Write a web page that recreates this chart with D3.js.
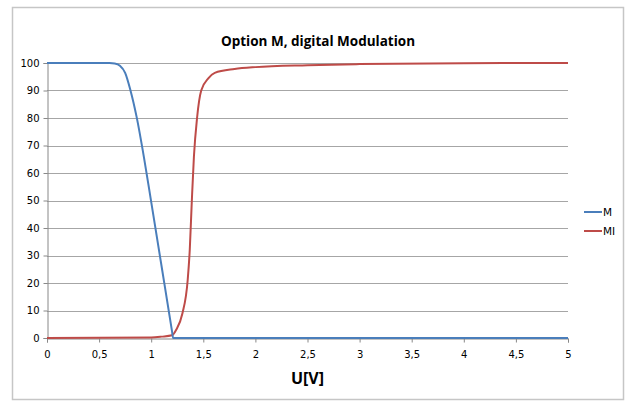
<!DOCTYPE html>
<html>
<head>
<meta charset="utf-8">
<script src="https://cdn.jsdelivr.net/npm/d3@7"></script>
<style>
  body { margin: 0; background: #fff; }
  text { font-family: "DejaVu Sans", sans-serif; }
</style>
</head>
<body>
<div id="chart"></div>
<script>
// values
var mX  = [0, 0.6, 0.65, 0.7, 0.75, 0.8, 0.86, 0.93, 1.0, 1.1, 1.2, 1.21, 5];
var mY  = [100, 100, 99.8, 99, 96.4, 90.2, 80.4, 65.8, 49.5, 26, 2.4, 0, 0];
var miX = [0, 1.0, 1.1, 1.2, 1.24, 1.3, 1.35, 1.37, 1.39, 1.41, 1.44, 1.48, 1.55, 1.61, 1.8, 2.0, 2.5, 3, 4, 5];
var miY = [0, 0.2, 0.5, 1, 3, 9, 21, 32, 50, 66, 80, 90, 94.5, 96.4, 97.8, 98.5, 99.2, 99.6, 99.9, 100];
var xTicks = [0, 0.5, 1, 1.5, 2, 2.5, 3, 3.5, 4, 4.5, 5];
var yTicks = [0, 10, 20, 30, 40, 50, 60, 70, 80, 90, 100];
var seriesNames = ["M", "MI"];
var colors = ["#4a7ebb", "#be4b48"];

var W = 633, H = 401;
var margin = {top: 63, right: 65, bottom: 63, left: 47},
    width = W - margin.left - margin.right,
    height = H - margin.top - margin.bottom;

var svg = d3.select("#chart").append("svg")
    .attr("width", W)
    .attr("height", H);

// chart border
svg.append("rect")
    .attr("x", 12.5).attr("y", 7.5)
    .attr("width", 611).attr("height", 392)
    .attr("fill", "none")
    .attr("stroke", "#c6c6c6")
    .attr("stroke-width", 1.5);

svg.append("text")
    .attr("x", 318).attr("y", 46)
    .attr("text-anchor", "middle")
    .style("font-family", "'Open Sans', sans-serif")
    .style("font-weight", "bold")
    .style("font-size", "13.5px")
    .text("Option M, digital Modulation");

var g = svg.append("g")
    .attr("transform", "translate(" + margin.left + "," + margin.top + ")");

var x = d3.scaleLinear().domain([0, 5]).range([0, width]);
var y = d3.scaleLinear().domain([0, 100]).range([height, 0]);

// gridlines
g.selectAll(".grid")
  .data(yTicks.slice(1))
  .enter().append("line")
    .attr("x1", 0).attr("x2", width)
    .attr("y1", function(d){ return Math.round(y(d)) + 0.5; })
    .attr("y2", function(d){ return Math.round(y(d)) + 0.5; })
    .attr("stroke", "#a6a6a6");

// y axis
var yAxis = g.append("g")
    .attr("transform", "translate(0.5,0)")
    .call(d3.axisLeft(y).tickValues(yTicks).tickSize(4).tickPadding(4));
yAxis.selectAll("line").attr("stroke", "#888");
yAxis.select(".domain").attr("stroke", "#888");
yAxis.selectAll("text").style("font-size", "10px").style("font-family", "'DejaVu Sans', sans-serif").attr("fill", "#000");

// x axis
var xAxis = g.append("g")
    .attr("transform", "translate(0," + (Math.round(height) + 0.5) + ")")
    .call(d3.axisBottom(x).tickValues(xTicks).tickSize(4).tickPadding(8)
      .tickFormat(function(d){ return String(d).replace(".", ","); }));
xAxis.selectAll("line").attr("stroke", "#888");
xAxis.select(".domain").attr("stroke", "#888");
xAxis.selectAll("text").style("font-size", "10px").style("font-family", "'DejaVu Sans', sans-serif").attr("fill", "#000");

svg.append("text")
    .attr("x", margin.left + width / 2).attr("y", 384)
    .attr("text-anchor", "middle")
    .style("font-family", "'Open Sans', sans-serif")
    .style("font-weight", "bold")
    .style("font-size", "16px")
    .text("U[V]");

var line = d3.line()
    .x(function(d){ return x(d[0]); })
    .y(function(d){ return y(d[1]); })
    .curve(d3.curveMonotoneX);

var series = [d3.zip(mX, mY), d3.zip(miX, miY)];

// draw MI first, then M on top
[1, 0].forEach(function(i){
  g.append("path")
      .datum(series[i])
      .attr("d", line)
      .attr("fill", "none")
      .attr("stroke", colors[i])
      .attr("stroke-width", 2);
});

// legend
var legend = svg.append("g");
seriesNames.forEach(function(name, i){
  var ly = 212 + i * 19;
  legend.append("line")
      .attr("x1", 584).attr("x2", 602)
      .attr("y1", ly).attr("y2", ly)
      .attr("stroke", colors[i])
      .attr("stroke-width", 2);
  legend.append("text")
      .attr("x", 603).attr("y", ly + 4)
      .style("font-size", "10.5px")
      .text(name);
});
</script>
</body>
</html>
